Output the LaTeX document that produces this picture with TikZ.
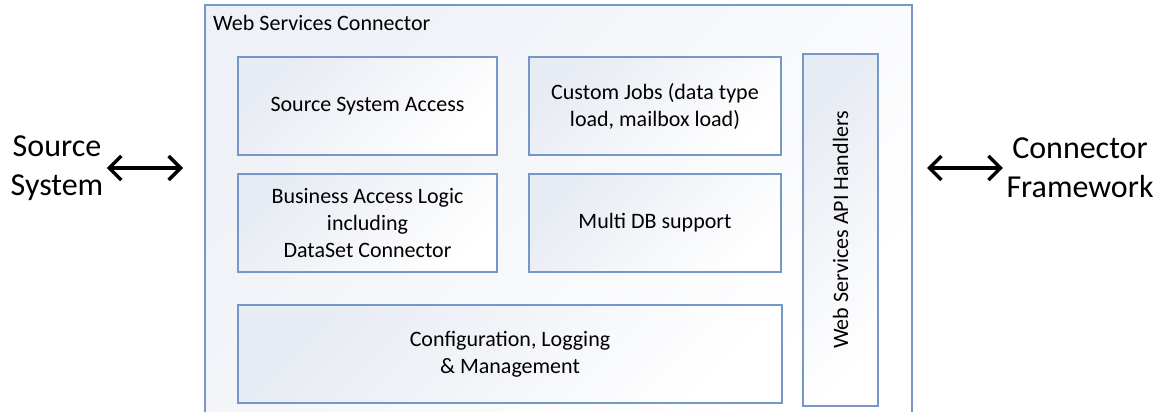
\documentclass[tikz,border=0pt]{standalone}
\usepackage{fontspec}
\setmainfont{Carlito}
\usepackage{xcolor}
\usepackage{tikz}
\usetikzlibrary{arrows.meta}

\definecolor{boxblue}{RGB}{118,151,200}
\definecolor{boxgray}{RGB}{231,235,243}
\definecolor{outergray}{RGB}{238,241,247}

\tikzset{
	part/.style={draw=boxblue, line width=1.2pt, shading=axis, top color=boxgray, bottom color=white, shading angle=45, align=center, inner sep=0pt, outer sep=0pt, minimum height=98pt, font=\fontsize{22}{27}\selectfont},
	side/.style={align=center, font=\fontsize{32}{39}\selectfont},
	biarrow/.style={{Straight Barb[length=12pt,width=24pt]}-{Straight Barb[length=12pt,width=24pt]}, line width=3.5pt}
}

\begin{document}
\begin{tikzpicture}[x=1pt,y=-1pt]
	\useasboundingbox (0,0) rectangle (1162,412);
	
	% connector frame, open at the bottom
	\node[shading=axis, top color=outergray, bottom color=white, shading angle=45, inner sep=0pt, outer sep=0pt, minimum width=707pt, minimum height=407pt, anchor=north west] (wsc) at (205,5) {};
	\draw[boxblue, line width=1.2pt] (wsc.south west) |- (wsc.north east) -- (wsc.south east);
	\node[anchor=base west, inner sep=0pt, font=\fontsize{22}{27}\selectfont] (title) at (213,31) {Web Services Connector};
	
	\node[part, minimum width=259pt] (access) at (367.5,106) {Source System Access};
	\node[part, minimum width=252pt] (jobs) at (655,106) {Custom Jobs (data type\\load, mailbox load)};
	\node[part, minimum width=259pt] (logic) at (367.5,223) {Business Access Logic\\including\\DataSet Connector};
	\node[part, minimum width=252pt] (multidb) at (655,223) {Multi DB support};
	\node[part, minimum width=544pt] (config) at (510,354) {Configuration, Logging\\\& Management};
	\node[part, minimum width=75pt, minimum height=352pt] (api) at (840.5,230) {};
	\node[rotate=90, font=\fontsize{22}{27}\selectfont] (apitext) at (api.center) {Web Services API Handlers};
	
	\node[side] (src) at (57,168) {Source\\System};
	\node[side] (fw) at (1080,168) {Connector\\Framework};
	
	\draw[biarrow, shorten >=22pt] (src.east) -- (src.east -| wsc.west);
	\draw[biarrow, shorten <=15pt] (fw.west -| wsc.east) -- (fw.west);
\end{tikzpicture}
\end{document}
